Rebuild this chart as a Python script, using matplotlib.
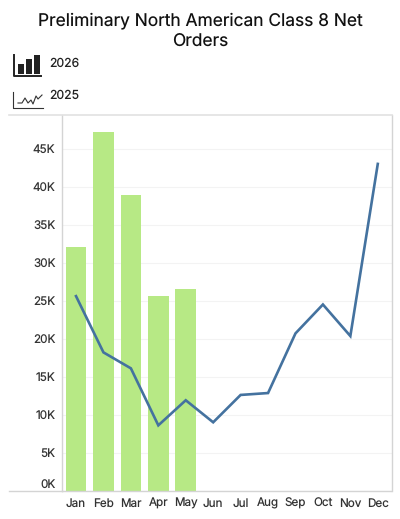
import matplotlib
matplotlib.use("Agg")
import matplotlib.pyplot as plt
from matplotlib.lines import Line2D
from matplotlib.patches import Rectangle

months = ["Jan", "Feb", "Mar", "Apr", "May", "Jun", "Jul", "Aug", "Sep", "Oct", "Nov", "Dec"]
orders_2026 = [32100, 47150, 38900, 25600, 26600]
orders_2025 = [25600, 18200, 16100, 8600, 11900, 9000, 12600, 12850, 20700, 24500, 20350, 43000]
y_ticks = [0, 5000, 10000, 15000, 20000, 25000, 30000, 35000, 40000, 45000]
y_tick_labels = ["0K", "5K", "10K", "15K", "20K", "25K", "30K", "35K", "40K", "45K"]
title = "Preliminary North American Class 8 Net\nOrders"
legend_labels = ["2026", "2025"]

W, H = 400, 519
plt.rcParams["font.family"] = ["Inter", "DejaVu Sans"]
plt.rcParams["text.hinting"] = "no_hinting"
plt.rcParams["text.hinting_factor"] = 1
fig = plt.figure(figsize=(W / 100, H / 100), dpi=100)

L, R, T, B = 62.3, 391.5, 115.0, 490.7
ax = fig.add_axes([L / W, 1 - B / H, (R - L) / W, (B - T) / H])
x = list(range(len(months)))
ax.bar(x[:len(orders_2026)], orders_2026, width=0.75, color="#b7e985", zorder=2)
ax.plot(x, orders_2025, color="#44729f", lw=1.9, zorder=3, solid_joinstyle="miter")
ax.set_xlim(-0.5, 11.5)
ax.set_ylim(0, (B - T) / 7.6 * 1000)
ax.set_xticks(x, months, fontsize=8.4, color="#333333")
ax.set_yticks(y_ticks, y_tick_labels, fontsize=8.4, color="#333333")
ax.tick_params(length=0)
ax.tick_params(axis="y", pad=5)
ax.tick_params(axis="x", pad=5.2)
for lab in ax.get_yticklabels()[1:]:
    lab.set_verticalalignment("center_baseline")
ax.get_yticklabels()[0].set_verticalalignment("bottom")
ax.grid(axis="y", color="#f3f3f3", lw=0.8, zorder=0)
ax.set_axisbelow(True)
for s in ax.spines.values():
    s.set_color("#d4d4d4")
    s.set_linewidth(1.0)
ax.spines["top"].set_visible(False)


def px(xp, yp):
    return xp / W, 1 - yp / H


def fline(xs, ys, color, lw):
    fig.add_artist(Line2D([a / W for a in xs], [1 - b / H for b in ys], color=color, lw=lw))


# outer frame rules reaching beyond the axis
fline([9, R], [115, 115], "#e2e2e2", 1.2)
fline([9, L], [B, B], "#d4d4d4", 1.0)

fig.text(*px(200.5, 30.5), title, ha="center", va="center", fontsize=12.5, color="#111111",
         linespacing=1.3)

fig.text(*px(49, 63.5), legend_labels[0], ha="left", va="center", fontsize=8.8, color="#222222")
fig.text(*px(49, 95.5), legend_labels[1], ha="left", va="center", fontsize=8.8, color="#222222")

# legend icons
fline([13.5, 13.5, 41], [55, 75.5, 75.5], "#222222", 1.4)
for x0, x1, top in [(18, 23.5, 63.5), (26, 32, 59), (34, 40, 55)]:
    fig.add_artist(Rectangle(px(x0, 73.5), (x1 - x0) / W, (73.5 - top) / H, color="#222222", lw=0,
                             transform=fig.transFigure))
fline([12.5, 12.5, 43], [92, 108, 108], "#333333", 0.8)
fline([18, 22, 25, 28, 31, 33, 36, 38, 42], [103, 103, 98, 103, 100, 104, 96, 99, 95], "#333333", 0.8)

fig.savefig("out.png", dpi=100)
